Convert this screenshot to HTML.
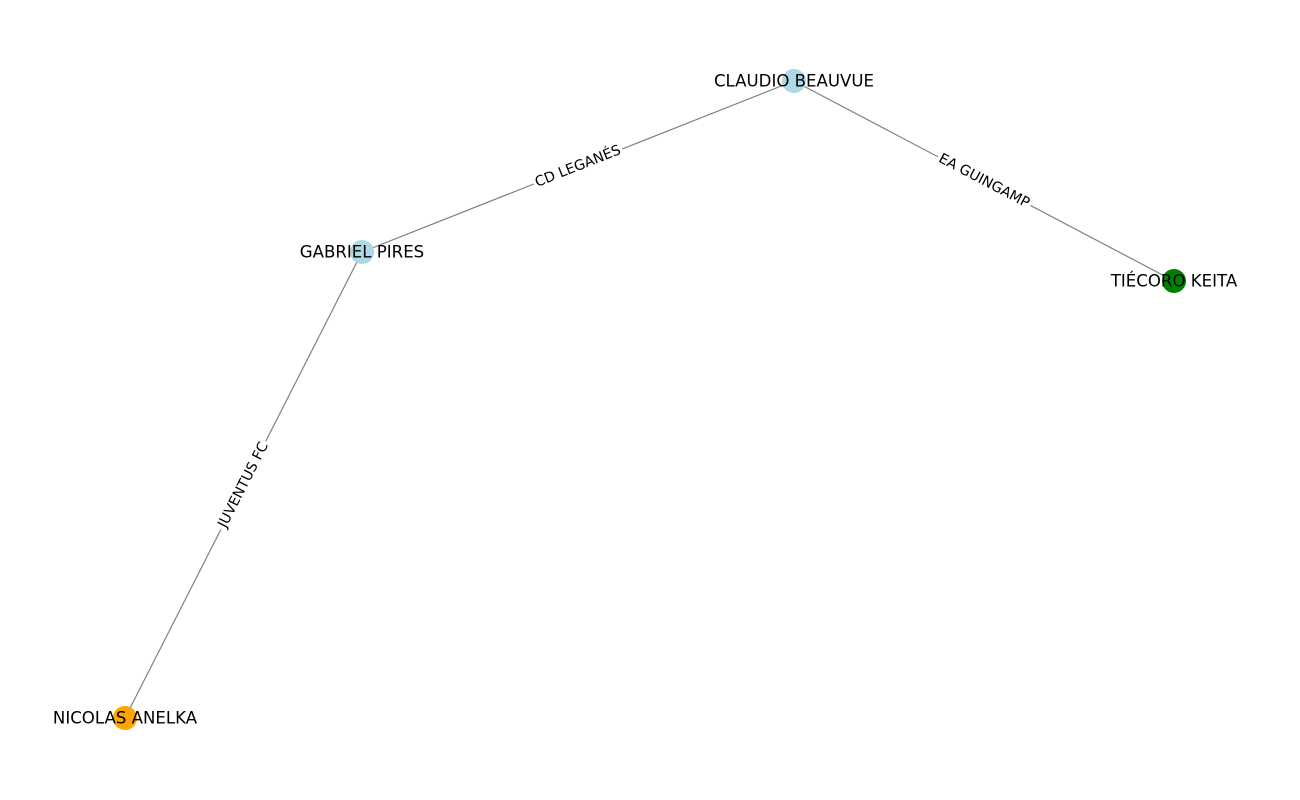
<!DOCTYPE html>
<html><head><meta charset="utf-8"><style>
html,body{margin:0;padding:0;background:#fff;}
svg{display:block;}
</style></head><body>
<svg id="chart" width="1300" height="800" xmlns="http://www.w3.org/2000/svg"></svg>
<script>
const nodeNames = ["CLAUDIO BEAUVUE","GABRIEL PIRES","TIÉCORO KEITA","NICOLAS ANELKA"];
const nodeX = [794,362,1174,125];
const nodeY = [81,252,281,718];
const nodeColors = ["#add8e6","#add8e6","#008000","#ffa500"];
const edgeFrom = [0,0,1];
const edgeTo = [1,2,3];
const edgeLabels = ["CD LEGANÉS","EA GUINGAMP","JUVENTUS FC"];

const svg = document.getElementById('chart');
const NS = "http://www.w3.org/2000/svg";
const font = '"DejaVu Sans","Liberation Sans",sans-serif';

edgeFrom.forEach((a,i)=>{
  const b = edgeTo[i];
  const l = document.createElementNS(NS,'line');
  
  
  l.setAttribute('x1',nodeX[a]);l.setAttribute('y1',nodeY[a]);
  l.setAttribute('x2',nodeX[b]);l.setAttribute('y2',nodeY[b]);
  l.setAttribute('stroke','#808080');l.setAttribute('stroke-width','1.2');
  svg.appendChild(l);
});

edgeFrom.forEach((a,i)=>{
  const b = edgeTo[i];
  const mx=(nodeX[a]+nodeX[b])/2, my=(nodeY[a]+nodeY[b])/2;
  let ang = Math.atan2(nodeY[b]-nodeY[a], nodeX[b]-nodeX[a])*180/Math.PI;
  if (ang>90) ang-=180; if (ang<-90) ang+=180;
  const g = document.createElementNS(NS,'g');
  
  
  g.setAttribute('transform',`translate(${mx},${my}) rotate(${ang})`);
  const t = document.createElementNS(NS,'text');
  t.setAttribute('text-anchor','middle');t.setAttribute('dominant-baseline','central');
  t.setAttribute('font-family',font);t.setAttribute('font-size','14.1');
  t.textContent = edgeLabels[i];
  const r = document.createElementNS(NS,'rect');
  r.setAttribute('fill','#fff');
  g.appendChild(r);g.appendChild(t);svg.appendChild(g);
  const bb = t.getBBox();
  r.setAttribute('x',bb.x-2);r.setAttribute('y',bb.y);
  r.setAttribute('width',bb.width+4);r.setAttribute('height',bb.height);
});

nodeNames.forEach((n,i)=>{
  const c = document.createElementNS(NS,'circle');
  
  
  c.setAttribute('cx',nodeX[i]);c.setAttribute('cy',nodeY[i]);c.setAttribute('r','12');
  c.setAttribute('fill',nodeColors[i]);
  svg.appendChild(c);
});
nodeNames.forEach((n,i)=>{
  const t = document.createElementNS(NS,'text');
  
  
  t.setAttribute('x',nodeX[i]);t.setAttribute('y',nodeY[i]);
  t.setAttribute('text-anchor','middle');t.setAttribute('dominant-baseline','central');
  t.setAttribute('font-family',font);t.setAttribute('font-size','16.6');
  t.textContent = n;
  svg.appendChild(t);
});
</script>
</body></html>
